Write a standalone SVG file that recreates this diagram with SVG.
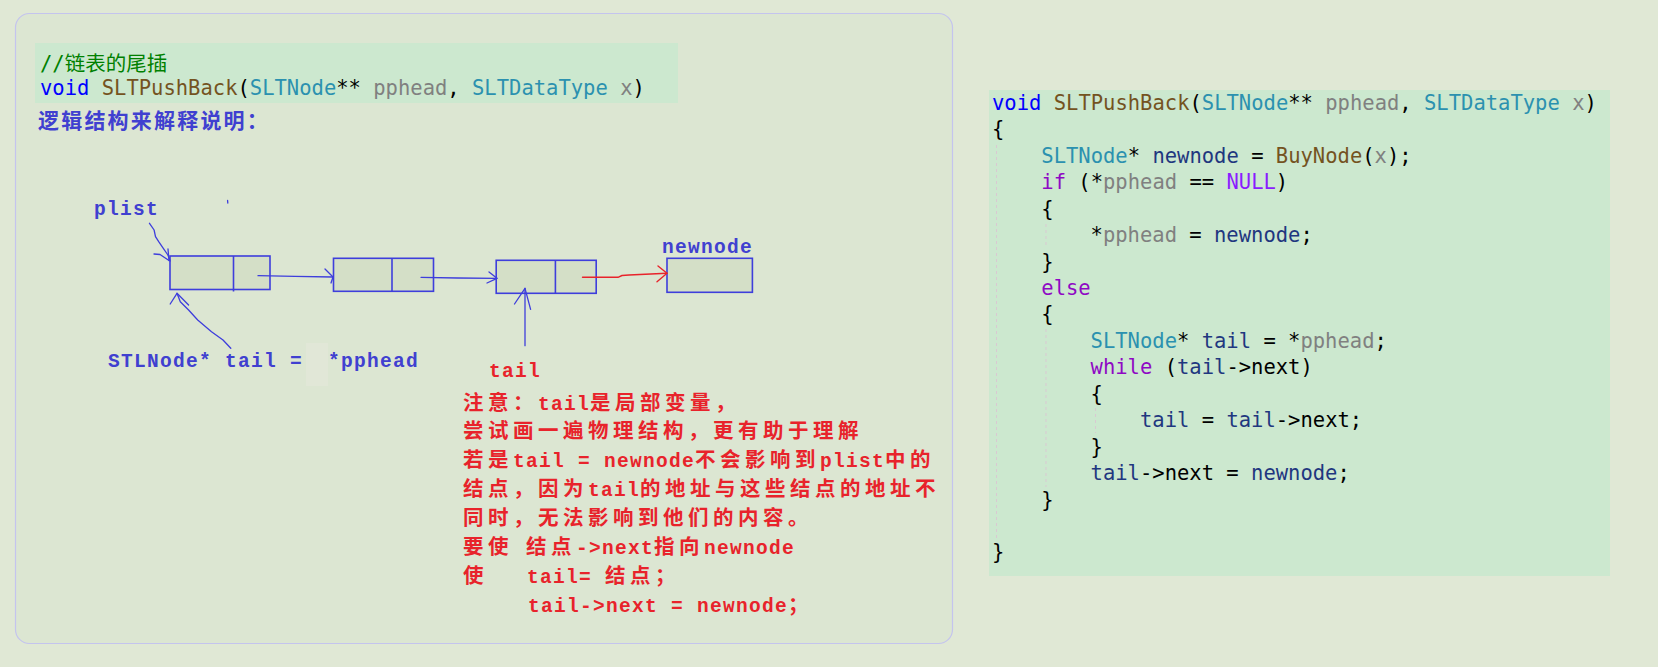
<svg xmlns="http://www.w3.org/2000/svg" width="1658" height="667" viewBox="0 0 1658 667">
<defs>
<style>
.code{font-family:"DejaVu Sans Mono","Noto Sans CJK SC",monospace;font-size:20.5px;white-space:pre}
.cjkc{font-family:"Noto Sans CJK SC",sans-serif;font-size:20.5px}
.kw{fill:#0000FF}.fn{fill:#74531F}.ty{fill:#2B91AF}.pa{fill:#808080}.pu{fill:#000000}.lo{fill:#1F377F}.ct{fill:#8F08C4}.ma{fill:#8A1BFF}.cm{fill:#008000}
.rt{fill:#E8232B;white-space:pre}
.bt{fill:#4040D0;white-space:pre}
.a{font-family:"Liberation Mono",monospace;font-weight:bold;font-size:19.5px;letter-spacing:1.3px}
.c{font-family:"Noto Sans CJK SC",sans-serif;font-weight:bold;font-size:20.5px;letter-spacing:4.5px}
.box{fill:#D4DFC7;stroke:#3E3EDC;stroke-width:1.6}
.ln{fill:none;stroke:#3E3EDC;stroke-width:1.3;stroke-linejoin:round;stroke-linecap:round}
.lr{fill:none;stroke:#E8232B;stroke-width:1.4;stroke-linejoin:round;stroke-linecap:round}
.guide{stroke:#D9C9D2;stroke-width:1;stroke-dasharray:3,3}
</style>
</defs>
<rect x="0" y="0" width="1658" height="667" fill="#E0E8D5"/>
<rect x="15.5" y="13.5" width="937" height="630" rx="14" fill="#DCE6D2" stroke="#C4C4EE" stroke-width="1.2"/>

<g id="left-code">
<rect x="35" y="43" width="643" height="60" fill="#CCE8CF"/>
<text class="code" x="40" y="71"><tspan class="cm">//</tspan><tspan class="cm cjkc">链表的尾插</tspan></text>
<text class="code" x="40" y="95"><tspan class="kw">void</tspan> <tspan class="fn">SLTPushBack</tspan><tspan class="pu">(</tspan><tspan class="ty">SLTNode</tspan><tspan class="pu">**</tspan> <tspan class="pa">pphead</tspan><tspan class="pu">,</tspan> <tspan class="ty">SLTDataType</tspan> <tspan class="pa">x</tspan><tspan class="pu">)</tspan></text>
</g>

<g id="heading">
<text x="38" y="128" fill="#4040D0" font-family="Noto Sans CJK SC, sans-serif" font-weight="bold" font-size="21" letter-spacing="2.2">逻辑结构来解释说明：</text>
</g>

<g id="node1"><rect class="box" x="170" y="256" width="100" height="33.5"/><line x1="233.5" y1="256" x2="233.5" y2="291.5" stroke="#3E3EDC" stroke-width="1.6"/></g>
<g id="node2"><rect class="box" x="333.5" y="258.3" width="100" height="33"/><line x1="392" y1="258.3" x2="392" y2="291.3" stroke="#3E3EDC" stroke-width="1.6"/></g>
<g id="node3"><rect class="box" x="496.2" y="260.3" width="100" height="33"/><line x1="555.4" y1="260.3" x2="555.4" y2="293.3" stroke="#3E3EDC" stroke-width="1.6"/></g>
<g id="node4"><rect class="box" x="667" y="258.3" width="85.4" height="34"/></g>

<g id="label-plist"><text class="bt a" x="94" y="215">plist</text></g>
<g id="label-newnode"><text class="bt a" x="662" y="253">newnode</text></g>
<g id="label-tail-assign">
<rect x="306" y="343" width="22" height="43" fill="#E1E7D7"/>
<text class="bt a" x="108" y="367">STLNode* tail =</text>
<text class="bt a" x="328" y="367">*pphead</text>
</g>

<g id="connectors">
<polyline class="ln" points="258,275.7 295,276.3 333,277"/>
<polyline class="ln" points="325,269 333,277 331,283"/>
<polyline class="ln" points="421,277.3 457.6,278 497,278.3"/>
<polyline class="ln" points="489,272 497,278.3 487,283"/>
<polyline class="lr" points="582.5,277.3 618,277.3 622,275.5 629,275 667,273.3"/>
<polyline class="lr" points="658,266 667,273.3 657,281.7"/>
<polyline class="ln" points="149.5,223.3 154.1,230 155.5,236.7 158.7,241.7 163.3,248.3 167.9,255 170.2,261"/>
<polyline class="ln" points="154,254 160,254.5 169,260.5"/>
<line class="ln" x1="168" y1="249" x2="169" y2="260.5"/>
<polyline class="ln" points="230.8,348.3 223,340 211.5,331.7 197.7,320 188.6,310 180.3,301.7 177,293.3"/>
<polyline class="ln" points="170.2,304 177,293.3 188.6,305"/>
<line class="ln" x1="525" y1="345.7" x2="525" y2="288.3"/>
<polyline class="ln" points="514.5,304 525,288.3 530.6,309.3"/>
<line class="ln" x1="227.6" y1="200.5" x2="227.8" y2="203"/>
</g>

<g id="notes">
<text class="rt a" x="489" y="377">tail</text>
<text class="rt" y="410"><tspan x="463" class="c">注意：</tspan><tspan class="a">tail</tspan><tspan class="c">是局部变量，</tspan></text>
<text class="rt" y="438"><tspan x="463" class="c">尝试画一遍物理结构，更有助于理解</tspan></text>
<text class="rt" y="467"><tspan x="463" class="c">若是</tspan><tspan class="a">tail = newnode</tspan><tspan class="c">不会影响到</tspan><tspan class="a">plist</tspan><tspan class="c">中的</tspan></text>
<text class="rt" y="496"><tspan x="463" class="c">结点，因为</tspan><tspan class="a">tail</tspan><tspan class="c">的地址与这些结点的地址不</tspan></text>
<text class="rt" y="525"><tspan x="463" class="c">同时，无法影响到他们的内容。</tspan></text>
<text class="rt" y="554"><tspan x="463" class="c">要使</tspan><tspan x="526" class="c">结点</tspan><tspan class="a">-&gt;next</tspan><tspan class="c">指向</tspan><tspan class="a">newnode</tspan></text>
<text class="rt" y="583"><tspan x="463" class="c">使</tspan><tspan x="527" class="a">tail= </tspan><tspan class="c">结点；</tspan></text>
<text class="rt" y="612"><tspan x="528" class="a">tail-&gt;next = newnode</tspan><tspan class="c">；</tspan></text>
</g>

<g id="right-code">
<rect x="989" y="90" width="621" height="486" fill="#CCE8CF"/>
<line class="guide" x1="996.5" y1="145" x2="996.5" y2="540"/>
<line class="guide" x1="1046" y1="224" x2="1046" y2="248"/>
<line class="guide" x1="1046" y1="329" x2="1046" y2="487"/>
<line class="guide" x1="1095.5" y1="408" x2="1095.5" y2="433"/>
<text class="code" x="992" y="110"><tspan class="kw">void</tspan> <tspan class="fn">SLTPushBack</tspan><tspan class="pu">(</tspan><tspan class="ty">SLTNode</tspan><tspan class="pu">**</tspan> <tspan class="pa">pphead</tspan><tspan class="pu">,</tspan> <tspan class="ty">SLTDataType</tspan> <tspan class="pa">x</tspan><tspan class="pu">)</tspan></text>
<text class="code pu" x="992" y="136.4">{</text>
<text class="code" x="1041.3" y="162.9"><tspan class="ty">SLTNode</tspan><tspan class="pu">*</tspan> <tspan class="lo">newnode</tspan><tspan class="pu"> = </tspan><tspan class="fn">BuyNode</tspan><tspan class="pu">(</tspan><tspan class="pa">x</tspan><tspan class="pu">);</tspan></text>
<text class="code" x="1041.3" y="189.3"><tspan class="ct">if</tspan><tspan class="pu"> (*</tspan><tspan class="pa">pphead</tspan><tspan class="pu"> == </tspan><tspan class="ma">NULL</tspan><tspan class="pu">)</tspan></text>
<text class="code pu" x="1041.3" y="215.7">{</text>
<text class="code" x="1090.6" y="242.2"><tspan class="pu">*</tspan><tspan class="pa">pphead</tspan><tspan class="pu"> = </tspan><tspan class="lo">newnode</tspan><tspan class="pu">;</tspan></text>
<text class="code pu" x="1041.3" y="268.6">}</text>
<text class="code ct" x="1041.3" y="295">else</text>
<text class="code pu" x="1041.3" y="321.4">{</text>
<text class="code" x="1090.6" y="347.9"><tspan class="ty">SLTNode</tspan><tspan class="pu">*</tspan> <tspan class="lo">tail</tspan><tspan class="pu"> = *</tspan><tspan class="pa">pphead</tspan><tspan class="pu">;</tspan></text>
<text class="code" x="1090.6" y="374.3"><tspan class="ct">while</tspan><tspan class="pu"> (</tspan><tspan class="lo">tail</tspan><tspan class="pu">-&gt;next)</tspan></text>
<text class="code pu" x="1090.6" y="400.7">{</text>
<text class="code" x="1140" y="427.2"><tspan class="lo">tail</tspan><tspan class="pu"> = </tspan><tspan class="lo">tail</tspan><tspan class="pu">-&gt;next;</tspan></text>
<text class="code pu" x="1090.6" y="453.6">}</text>
<text class="code" x="1090.6" y="480"><tspan class="lo">tail</tspan><tspan class="pu">-&gt;next = </tspan><tspan class="lo">newnode</tspan><tspan class="pu">;</tspan></text>
<text class="code pu" x="1041.3" y="506.5">}</text>
<text class="code pu" x="992" y="559.3">}</text>
</g>
</svg>
